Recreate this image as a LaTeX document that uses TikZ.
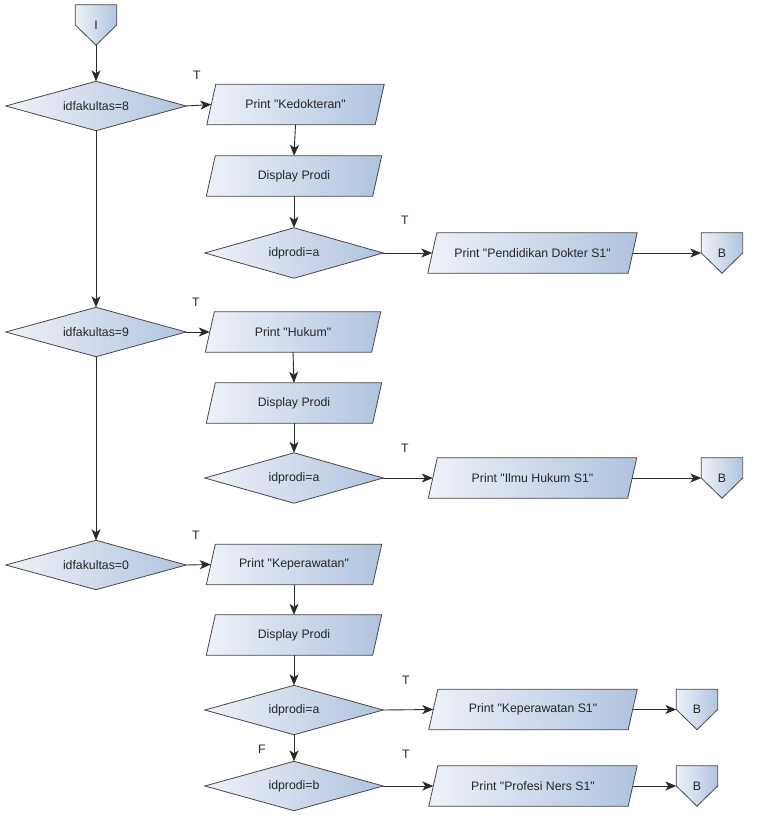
\documentclass[tikz,border=0pt]{standalone}
\usepackage{fontspec}
\setmainfont{Liberation Sans}
\newfontfamily\diagfont{Liberation Sans}
\usetikzlibrary{backgrounds,arrows.meta,calc}
\definecolor{lightb}{HTML}{EEF2F9}
\definecolor{darkb}{HTML}{B0C3DE}
\definecolor{edgec}{HTML}{474747}
\definecolor{wirec}{HTML}{2A2A2A}
\definecolor{textc}{HTML}{262626}

\newcommand{\ParaBox}[4]{%
  \node[lbl, minimum width=#3pt, minimum height=40pt] (#1) at (#2) {#4};
  \begin{scope}[on background layer]
    \path[shapefill] ([xshift=4.5pt]#1.north west) -- ([xshift=4.5pt]#1.north east)
      -- ([xshift=-4.5pt]#1.south east) -- ([xshift=-4.5pt]#1.south west) -- cycle;
  \end{scope}}
\newcommand{\DiaBox}[5]{%
  \node[lbl, minimum width=#3pt, minimum height=#4pt] (#1) at (#2) {#5};
  \begin{scope}[on background layer]
    \path[shapefill] (#1.north) -- (#1.east) -- (#1.south) -- (#1.west) -- cycle;
  \end{scope}}
\newcommand{\PentBox}[3]{%
  \node[lbl, minimum width=41pt, minimum height=40pt] (#1) at (#2) {#3};
  \begin{scope}[on background layer]
    \path[shapefill] (#1.north west) -- (#1.north east) -- (#1.east)
      -- (#1.south) -- (#1.west) -- cycle;
  \end{scope}}

\begin{document}
\begin{tikzpicture}[x=1pt,y=-1pt,
  lbl/.style={font=\diagfont\fontsize{12.3}{14}\selectfont, inner sep=0pt, text=textc},
  shapefill/.style={draw=edgec, line width=0.8pt, left color=lightb, right color=darkb},
  flow/.style={draw=wirec, line width=0.9pt, -{Stealth[length=11pt,width=9pt,inset=3pt]}},
  tlabel/.style={lbl}
]
\useasboundingbox (0,0) rectangle (768,816);

% start connector
\PentBox{I}{96,25}{I}

% faculty 8
\DiaBox{f8}{96,106}{180}{49}{idfakultas=8}
\ParaBox{p8}{295.5,104.5}{168}{Print "Kedokteran"}
\ParaBox{s8}{294,176}{166}{Display Prodi}
\DiaBox{d8a}{294,253}{178}{50}{idprodi=a}
\ParaBox{r8a}{532.5,253}{200}{Print "Pendidikan Dokter S1"}
\PentBox{b8a}{722,253}{B}

% faculty 9
\DiaBox{f9}{96,332}{180}{49}{idfakultas=9}
\ParaBox{p9}{293,332}{166}{Print "Hukum"}
\ParaBox{s9}{294,403}{166}{Display Prodi}
\DiaBox{d9a}{294,478}{178}{50}{idprodi=a}
\ParaBox{r9a}{532.5,478}{199}{Print "Ilmu Hukum S1"}
\PentBox{b9a}{722,478}{B}

% faculty 0
\DiaBox{f0}{96,565}{180}{49}{idfakultas=0}
\ParaBox{p0}{294,564.5}{166}{Print "Keperawatan"}
\ParaBox{s0}{294,635}{166}{Display Prodi}
\DiaBox{d0a}{294,710}{178}{49}{idprodi=a}
\ParaBox{r0a}{533,709.5}{199}{Print "Keperawatan S1"}
\PentBox{b0a}{697,709.5}{B}
\DiaBox{d0b}{294,786}{178}{49}{idprodi=b}
\ParaBox{r0b}{533,786}{199}{Print "Profesi Ners S1"}
\PentBox{b0b}{697,786}{B}

% labels
\node[tlabel] (t8) at (197,75) {T};
\node[tlabel] (t8a) at (405,220) {T};
\node[tlabel] (t9) at (196,302) {T};
\node[tlabel] (t9a) at (405,448) {T};
\node[tlabel] (t0) at (196,535) {T};
\node[tlabel] (t0a) at (406,680) {T};
\node[tlabel] (t0b) at (406,754) {T};
\node[tlabel] (f0b) at (262,749) {F};

% connectors
\draw[flow] (I.south) -- (f8.north);
\draw[flow] (f8.east) -- (p8.west);
\draw[flow] (p8.south) -- (s8.north);
\draw[flow] (s8.south) -- (d8a.north);
\draw[flow] (d8a.east) -- (r8a.west);
\draw[flow] (r8a.east) -- (b8a.west);
\draw[flow] (f8.south) -- (f9.north);

\draw[flow] (f9.east) -- (p9.west);
\draw[flow] (p9.south) -- (s9.north);
\draw[flow] (s9.south) -- (d9a.north);
\draw[flow] (d9a.east) -- (r9a.west);
\draw[flow] (r9a.east) -- (b9a.west);
\draw[flow] (f9.south) -- (f0.north);

\draw[flow] (f0.east) -- (p0.west);
\draw[flow] (p0.south) -- (s0.north);
\draw[flow] (s0.south) -- (d0a.north);
\draw[flow] (d0a.east) -- (r0a.west);
\draw[flow] (r0a.east) -- (b0a.west);
\draw[flow] (d0a.south) -- (d0b.north);
\draw[flow] (d0b.east) -- (r0b.west);
\draw[flow] (r0b.east) -- (b0b.west);
\end{tikzpicture}
\end{document}
